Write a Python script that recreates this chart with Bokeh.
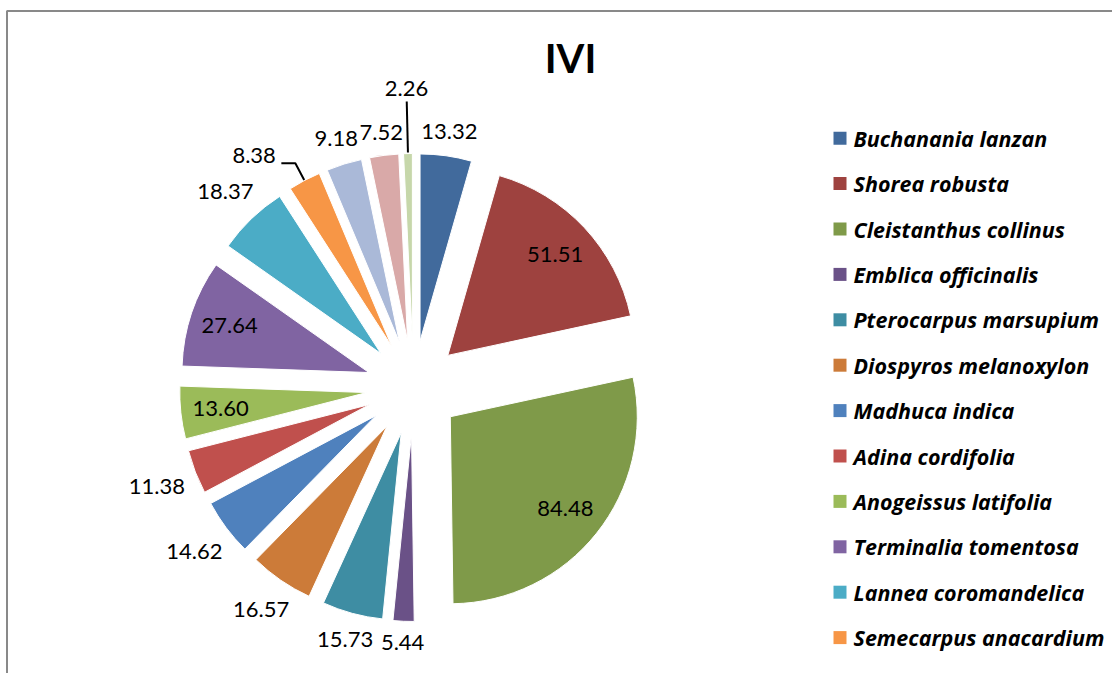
import numpy as np
from bokeh.plotting import figure
from bokeh.models import Range1d, ColumnDataSource
from bokeh.core.properties import value
from bokeh.embed import file_html
from bokeh.resources import INLINE

# ---------------- data ----------------
chart_title = "IVI"
species = ["Buchanania lanzan", "Shorea robusta", "Cleistanthus collinus",
           "Emblica officinalis", "Pterocarpus marsupium", "Diospyros melanoxylon",
           "Madhuca indica", "Adina cordifolia", "Anogeissus latifolia",
           "Terminalia tomentosa", "Lannea coromandelica", "Semecarpus anacardium"]
ivi = [13.32, 51.51, 84.48, 5.44, 15.73, 16.57, 14.62, 11.38, 13.60,
       27.64, 18.37, 8.38, 9.18, 7.52, 2.26]
colors = ["#416A9C", "#9E423F", "#7F9A49", "#6A5187", "#3E8DA3", "#CC7B39",
          "#4F81BD", "#C0504D", "#9BBB59", "#8064A2", "#4BACC6", "#F79646",
          "#AAB9D8", "#D9A9A8", "#C6D7AA"]
# label placement per slice: inside end, outside end, or with a leader line
placement = ["out", "in", "in", "out", "out", "out", "out", "out", "in",
             "in", "out", "lead_left", "out", "out", "lead_up"]

# ---------------- layout ----------------
W, H = 1112, 673
FONT = "Lato"
LEG_FONT = "Open Sans"
LABEL_FS = 22
cx, cy = 413.0, 286.0      # pie centre (canvas px, y up)
R = 187.0                  # pie radius
EXPLODE = 47.0             # explosion distance of every slice

p = figure(width=W, height=H, x_range=Range1d(0, W), y_range=Range1d(0, H),
           output_backend="svg", toolbar_location=None, min_border=0,
           x_axis_location=None, y_axis_location=None)
p.grid.visible = False
p.outline_line_color = None
p.background_fill_color = "white"
p.border_fill_color = "white"

# chart-area frame (right / bottom edges lie beyond the visible page)
p.quad(left=[6.5], right=[1300], bottom=[-50], top=[662.5], fill_color=None,
       line_color="#898989", line_width=2)

vals = np.array(ivi, dtype=float)
frac = vals / vals.sum()
ends = np.cumsum(frac) * 360.0
starts = ends - frac * 360.0
mids = (starts + ends) / 2.0
mr = np.radians(mids)
sx, sy = np.sin(mr), np.cos(mr)

src = ColumnDataSource(dict(
    x=cx + EXPLODE * sx, y=cy + EXPLODE * sy,
    start=90.0 - starts, end=90.0 - ends, color=colors))
p.wedge(x="x", y="y", radius=R, start_angle="start", end_angle="end",
        start_angle_units="deg", end_angle_units="deg", direction="clock",
        fill_color="color", line_color="white", line_width=1, source=src)

# ---------------- data labels ----------------
labels = ["%.2f" % v for v in ivi]
outer = R + EXPLODE
lx, ly, lalign = [], [], []
for i, lab in enumerate(labels):
    hw = ((len(lab) - 1) * 0.58 + 0.23) * LABEL_FS / 2.0
    hh = 8.5
    support = hw * abs(sx[i]) + hh * abs(sy[i])
    kind = placement[i]
    if kind == "in":
        d = outer - 40
        lx.append(cx + d * sx[i]); ly.append(cy + d * sy[i]); lalign.append("center")
    elif kind == "out":
        d = outer + 12 + support
        lx.append(cx + d * sx[i]); ly.append(cy + d * sy[i]); lalign.append("center")
    elif kind == "lead_up":
        a, b, d = outer + 1, outer + 52, outer + 65.5
        p.line([cx + a * sx[i], cx + b * sx[i]], [cy + a * sy[i], cy + b * sy[i]],
               line_color="black", line_width=2)
        lx.append(cx + d * sx[i]); ly.append(cy + d * sy[i]); lalign.append("center")
    else:  # lead_left
        a, b = outer + 0.5, outer + 19.5
        bx, by = cx + b * sx[i], cy + b * sy[i]
        p.line([cx + a * sx[i], bx, bx - 14], [cy + a * sy[i], by, by],
               line_color="black", line_width=2)
        lx.append(bx - 19.5); ly.append(by + 7.7); lalign.append("right")

p.text(x=lx, y=ly, text=labels, text_align=lalign, text_baseline="middle",
       text_font=value(FONT), text_font_size="%dpx" % LABEL_FS, text_color="black")

# ---------------- title ----------------
p.text(x=[570], y=[615.5], text=[chart_title], text_align="center",
       text_baseline="middle", text_font=value(FONT), text_font_style="bold",
       text_font_size="40px", text_color="black")

# ---------------- legend ----------------
n = len(species)
leg_y = [673 - 137.7 - 45.4 * k for k in range(n)]
p.rect(x=[839.5] * n, y=leg_y, width=13, height=13, fill_color=colors[:n],
       line_color=None)
p.text(x=[853] * n, y=leg_y, text=species, text_align="left",
       text_baseline="middle", text_font=value(LEG_FONT),
       text_font_style="bold italic", text_font_size="21.5px", text_color="black")

open("out.html", "w").write(file_html(p, INLINE))
